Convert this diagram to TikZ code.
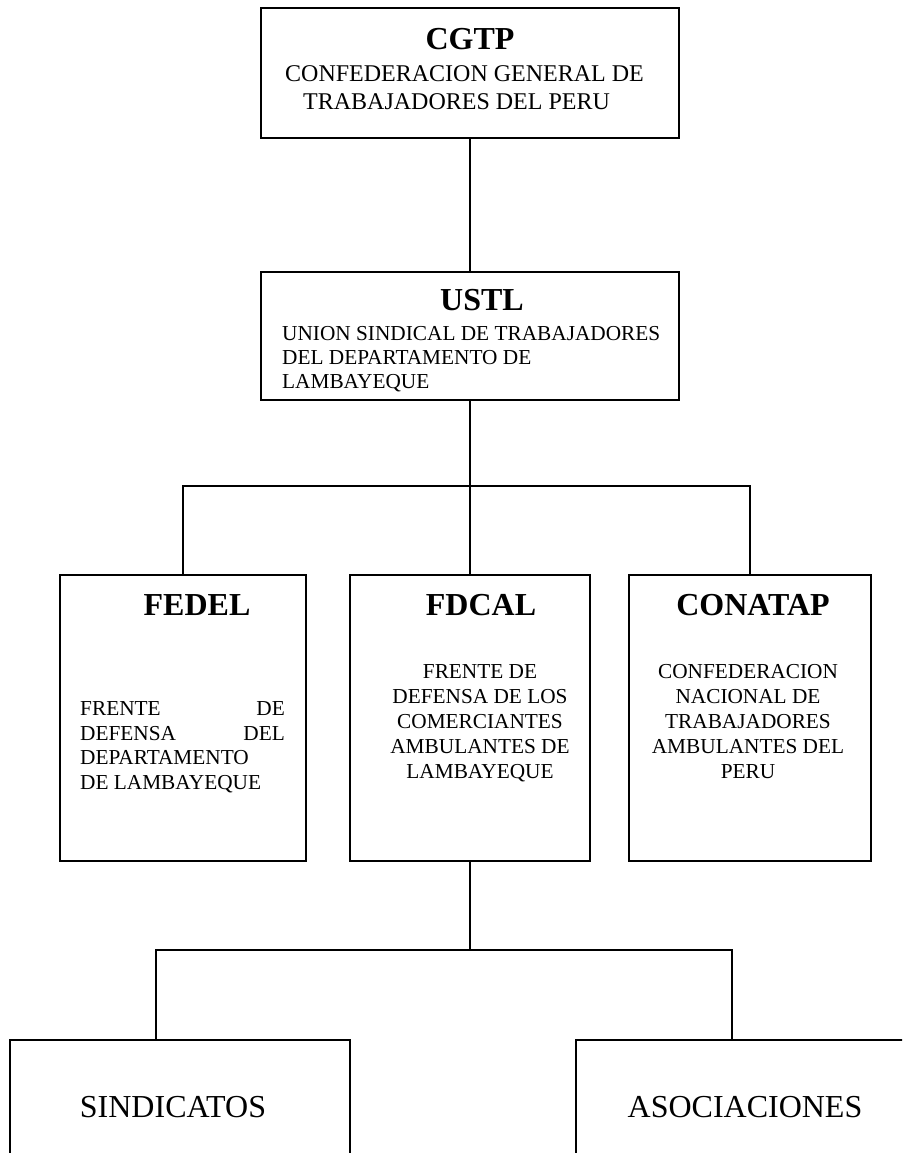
\documentclass[tikz,border=0pt]{standalone}
\usepackage{fontspec}
\setmainfont{Liberation Serif}
\begin{document}
\begin{tikzpicture}[x=1pt,y=-1pt]
\tikzset{
 box/.style={draw, line width=1.9pt, inner sep=0pt, outer sep=0pt},
 link/.style={line width=1.7pt},
 bigb/.style={font=\fontsize{32}{36}\selectfont\bfseries, inner sep=0pt},
 body/.style={font=\fontsize{21.3}{25}\selectfont, inner sep=0pt},
 bodyL/.style={font=\fontsize{24}{28}\selectfont, inner sep=0pt},
 leaf/.style={font=\fontsize{32}{36}\selectfont, inner sep=0pt},
}
\useasboundingbox (0,0) rectangle (902,1153);
\clip (0,0) rectangle (902,1153);
% boxes
\node[box, minimum width=418pt, minimum height=130pt] (cgtp) at (470,73) {};
\node[box, minimum width=418pt, minimum height=128pt] (ustl) at (470,336) {};
\node[box, minimum width=246pt, minimum height=286pt] (fedel) at (183,718) {};
\node[box, minimum width=240pt, minimum height=286pt] (fdcal) at (470,718) {};
\node[box, minimum width=242pt, minimum height=286pt] (conatap) at (750,718) {};
\node[box, minimum width=340pt, minimum height=160pt] (sind) at (180,1120) {};
\node[box, minimum width=340pt, minimum height=160pt] (asoc) at (746,1120) {};
% texts
\node[bigb, anchor=base] (t1) at (470,50) {CGTP};
\node[bodyL, anchor=base west] (t2) at (285,82) {CONFEDERACION GENERAL DE};
\node[bodyL, anchor=base west] (t3) at (303,110) {TRABAJADORES DEL PERU};
\node[bigb, anchor=base] (t4) at (482,310) {USTL};
\node[body, anchor=base west] (t5) at (282,340) {UNION SINDICAL DE TRABAJADORES};
\node[body, anchor=base west] (t6) at (282,364) {DEL DEPARTAMENTO DE};
\node[body, anchor=base west] (t7) at (282,388) {LAMBAYEQUE};
\node[bigb, anchor=base] (t8) at (197,615) {FEDEL};
\node[body, anchor=base west] (t9) at (80,715) {FRENTE};
\node[body, anchor=base east] (t10) at (285,715) {DE};
\node[body, anchor=base west] (t11) at (80,740) {DEFENSA};
\node[body, anchor=base east] (t12) at (285,740) {DEL};
\node[body, anchor=base west] (t13) at (80,764) {DEPARTAMENTO};
\node[body, anchor=base west] (t14) at (80,789) {DE LAMBAYEQUE};
\node[bigb, anchor=base] (t15) at (481,615) {FDCAL};
\node[body, anchor=base] (t16) at (480,678) {FRENTE DE};
\node[body, anchor=base] (t17) at (480,703) {DEFENSA DE LOS};
\node[body, anchor=base] (t18) at (480,728) {COMERCIANTES};
\node[body, anchor=base] (t19) at (480,753) {AMBULANTES DE};
\node[body, anchor=base] (t20) at (480,778) {LAMBAYEQUE};
\node[bigb, anchor=base] (t21) at (753,615) {CONATAP};
\node[body, anchor=base] (t22) at (748,678) {CONFEDERACION};
\node[body, anchor=base] (t23) at (748,703) {NACIONAL DE};
\node[body, anchor=base] (t24) at (748,728) {TRABAJADORES};
\node[body, anchor=base] (t25) at (748,753) {AMBULANTES DEL};
\node[body, anchor=base] (t26) at (748,778) {PERU};
\node[leaf, anchor=base] (t27) at (173,1117) {SINDICATOS};
\node[leaf, anchor=base] (t28) at (745,1117) {ASOCIACIONES};
% connectors
\coordinate (j1) at (470,486);
\coordinate (j2) at (470,950);
\coordinate (s1) at ([xshift=146pt]sind.north west);
\coordinate (a1) at ([xshift=156pt]asoc.north west);
\draw[link] (cgtp.south) -- (ustl.north);
\draw[link] (ustl.south) -- (fdcal.north);
\draw[link] (fedel.north) |- (j1) -| (conatap.north);
\draw[link] (fdcal.south) -- (j2);
\draw[link] (s1) |- (j2) -| (a1);
\end{tikzpicture}
\end{document}
